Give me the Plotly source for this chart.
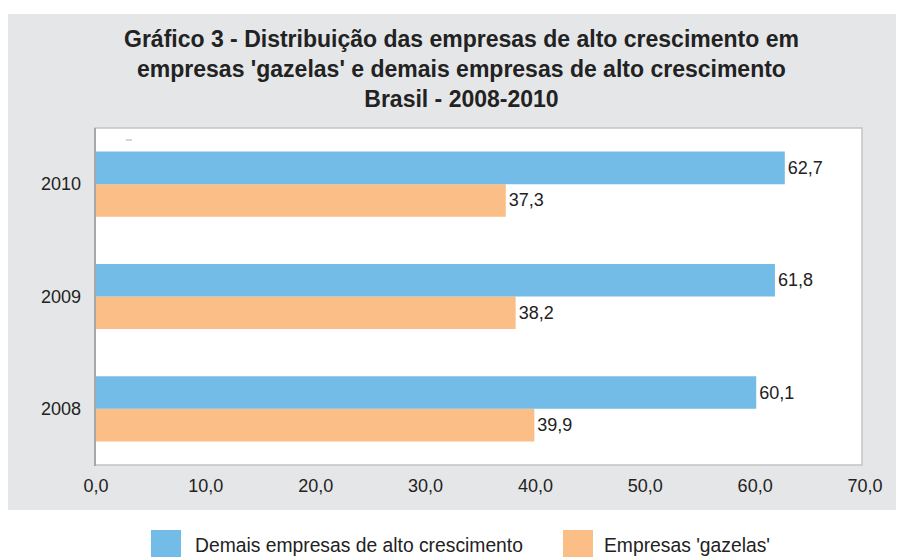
import plotly.graph_objects as go

years = ["2008", "2009", "2010"]
demais = [60.1, 61.8, 62.7]
gazelas = [39.9, 38.2, 37.3]
x_ticks = [0, 10, 20, 30, 40, 50, 60, 70]
x_tick_labels = ["0,0", "10,0", "20,0", "30,0", "40,0", "50,0", "60,0", "70,0"]
names = ["Demais empresas de alto crescimento", "Empresas 'gazelas'"]
title_lines = [
    "Gráfico 3 - Distribuição das empresas de alto crescimento em",
    "empresas 'gazelas' e demais empresas de alto crescimento",
    "Brasil - 2008-2010",
]

BLUE = "#73bce7"
ORANGE = "#fbbe87"
GRAY_BG = "#e5e6e8"
TXT = "#222222"
FONT = "Liberation Sans, Arial, Helvetica"

W, H = 898, 557
L, R, T, B = 96, 898 - 865, 128, 557 - 465
pw = W - L - R
ph = H - T - B


def fmt(v):
    return f"{v:.1f}".replace(".", ",")


def px_x(p):
    return (p - L) / pw


def px_y(p):
    return 1 - (p - T) / ph


fig = go.Figure()
fig.add_trace(go.Bar(
    y=years, x=gazelas, orientation="h", name=names[1],
    marker=dict(color=ORANGE, line=dict(width=0)),
    text=[fmt(v) for v in gazelas], textposition="outside",
    textfont=dict(family=FONT, size=18, color=TXT),
    cliponaxis=False, showlegend=False,
))
fig.add_trace(go.Bar(
    y=years, x=demais, orientation="h", name=names[0],
    marker=dict(color=BLUE, line=dict(width=0)),
    text=[fmt(v) for v in demais], textposition="outside",
    textfont=dict(family=FONT, size=18, color=TXT),
    cliponaxis=False, showlegend=False,
))

shapes = [
    # gray background panel
    dict(type="rect", xref="paper", yref="paper", layer="below",
         x0=px_x(8), x1=px_x(896), y0=px_y(510), y1=px_y(14),
         fillcolor=GRAY_BG, line=dict(width=0)),
    # white plot box
    dict(type="rect", xref="paper", yref="paper", layer="below",
         x0=px_x(95), x1=px_x(862), y0=px_y(465), y1=px_y(128),
         fillcolor="white", line=dict(color="#c4c4c4", width=1.5)),
    # left axis line
    dict(type="line", xref="paper", yref="paper", layer="below",
         x0=px_x(95), x1=px_x(95), y0=px_y(466), y1=px_y(128),
         line=dict(color="#9a9a9a", width=1.5)),
    # small dash
    dict(type="line", xref="paper", yref="paper", layer="below",
         x0=px_x(126), x1=px_x(132), y0=px_y(140), y1=px_y(140),
         line=dict(color="#aaaaaa", width=1)),
    # legend swatches
    dict(type="rect", xref="paper", yref="paper",
         x0=px_x(151), x1=px_x(181), y0=px_y(557), y1=px_y(530),
         fillcolor=BLUE, line=dict(width=0)),
    dict(type="rect", xref="paper", yref="paper",
         x0=px_x(563), x1=px_x(593), y0=px_y(557), y1=px_y(530),
         fillcolor=ORANGE, line=dict(width=0)),
]

annotations = [
    dict(text="<br>".join(f"<b>{t}</b>" for t in title_lines),
         xref="paper", yref="paper", x=px_x(461), y=px_y(69),
         xanchor="center", yanchor="middle", showarrow=False, align="center",
         font=dict(family=FONT, size=23, color=TXT)),
    dict(text=names[0], xref="paper", yref="paper", x=px_x(193), y=px_y(545),
         xanchor="left", yanchor="middle", showarrow=False,
         font=dict(family=FONT, size=19.3, color=TXT)),
    dict(text=names[1], xref="paper", yref="paper", x=px_x(602), y=px_y(545),
         xanchor="left", yanchor="middle", showarrow=False,
         font=dict(family=FONT, size=19.3, color=TXT)),
]

fig.update_layout(
    width=W, height=H,
    margin=dict(l=L, r=R, t=T, b=B, pad=0),
    paper_bgcolor="white",
    plot_bgcolor="rgba(0,0,0,0)",
    barmode="group",
    bargap=0.42,
    bargroupgap=0,
    showlegend=False,
    shapes=shapes,
    annotations=annotations,
    xaxis=dict(range=[0, 70], tickvals=x_ticks, ticktext=x_tick_labels,
               showgrid=False, zeroline=False, showline=False,
               ticks="", ticklabelstandoff=8,
               tickfont=dict(family=FONT, size=18, color=TXT)),
    yaxis=dict(categoryorder="array", categoryarray=years,
               showgrid=False, zeroline=False, showline=False, ticks="",
               ticklabelstandoff=14,
               tickfont=dict(family=FONT, size=18, color=TXT)),
)

fig.write_html("out.html", config={"displayModeBar": False},
               post_script="document.body.style.margin='0';")
